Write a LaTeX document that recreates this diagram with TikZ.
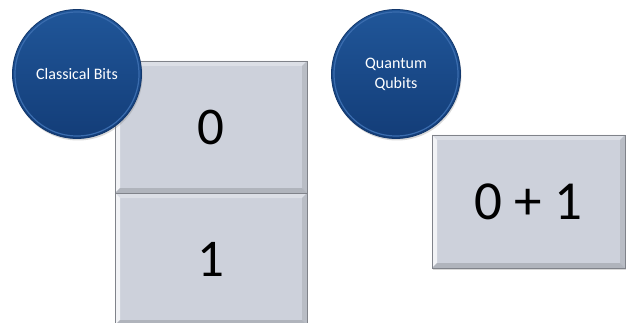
\documentclass[tikz,border=0pt]{standalone}
\usepackage{fontspec}
\setmainfont{Carlito}
\usetikzlibrary{shadows}

\definecolor{face}{HTML}{CDD1DB}
\definecolor{edgegray}{HTML}{80838A}
\definecolor{bevtop}{HTML}{DCDFE6}
\definecolor{bevleft}{HTML}{F2F3F6}
\definecolor{bevright}{HTML}{B9BDC5}
\definecolor{bevbottom}{HTML}{B0B4BC}
\definecolor{disctop}{HTML}{205699}
\definecolor{discbottom}{HTML}{133D78}
\definecolor{discedge}{HTML}{12376C}
\definecolor{discring}{HTML}{3A6CAE}

\tikzset{
  bevelbox/.style={
    draw=edgegray, line width=0.8pt, fill=face, inner sep=0pt, outer sep=0pt,
    drop shadow={opacity=0.3, shadow xshift=1pt, shadow yshift=-2pt},
    font=\fontsize{53}{53}\selectfont,
    path picture={
      \def\bw{5pt}
      \coordinate (pnw) at (path picture bounding box.north west);
      \coordinate (pne) at (path picture bounding box.north east);
      \coordinate (psw) at (path picture bounding box.south west);
      \coordinate (pse) at (path picture bounding box.south east);
      \fill[bevtop] (pnw) -- (pne) -- ([xshift=-\bw,yshift=-\bw]pne) -- ([xshift=\bw,yshift=-\bw]pnw) -- cycle;
      \fill[bevleft] (pnw) -- (psw) -- ([xshift=\bw,yshift=\bw]psw) -- ([xshift=\bw,yshift=-\bw]pnw) -- cycle;
      \fill[bevright] (pne) -- (pse) -- ([xshift=-\bw,yshift=\bw]pse) -- ([xshift=-\bw,yshift=-\bw]pne) -- cycle;
      \fill[bevbottom] (psw) -- (pse) -- ([xshift=-\bw,yshift=\bw]pse) -- ([xshift=\bw,yshift=\bw]psw) -- cycle;
    }
  },
  disc/.style={
    circle, minimum size=129pt, inner sep=0pt, outer sep=0pt,
    top color=disctop, bottom color=discbottom,
    draw=discedge, line width=0.8pt,
    drop shadow={opacity=0.3, shadow xshift=1pt, shadow yshift=-2pt},
    text=white, align=center, font=\fontsize{16}{20}\selectfont
  },
  discring/.style={circle, draw=discring, line width=1.2pt, minimum size=124pt, inner sep=0pt}
}

\begin{document}
\begin{tikzpicture}[x=1pt, y=-1pt]
  \useasboundingbox (0,0) rectangle (628,323);

  % classical bits: two stacked boxes
  \node[bevelbox, minimum width=192pt, minimum height=132pt] (bitzero) at (211,127) {0};
  \node[bevelbox, minimum width=192pt, minimum height=132pt] (bitone) at (211,259) {1};

  % quantum qubit: one superposed box
  \node[bevelbox, minimum width=193pt, minimum height=133pt, font=\fontsize{55}{55}\selectfont] (qubit) at (528.5,201.5) {0 + 1};

  % labelling discs with a light rim just inside the edge
  \node[disc] (classical) at (77,74) {Classical Bits};
  \node[discring] at (classical) {};
  \node[disc] (quantum) at (396,74) {Quantum\\Qubits};
  \node[discring] at (quantum) {};
\end{tikzpicture}
\end{document}
